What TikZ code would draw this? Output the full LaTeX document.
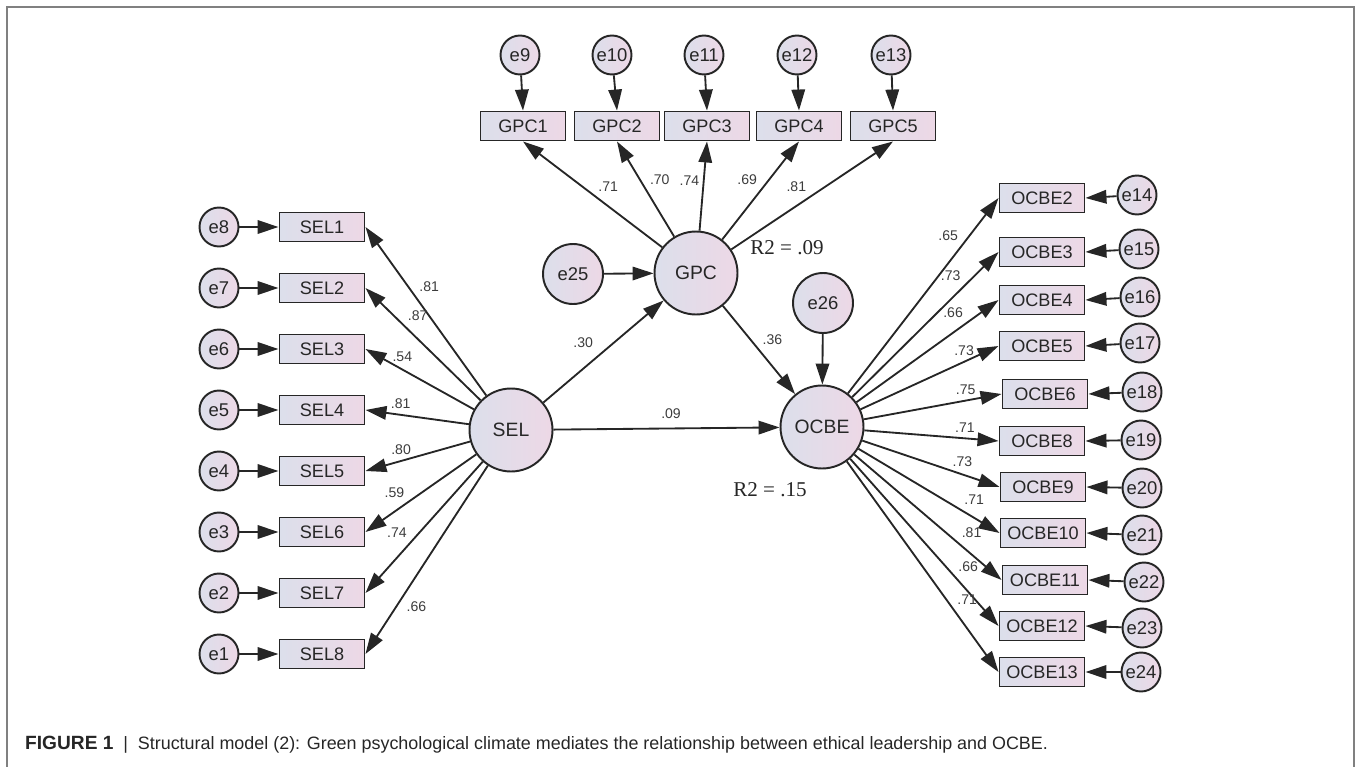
\documentclass[tikz,border=0pt]{standalone}
\usepackage{fontspec}
\setmainfont{Liberation Sans}
\newfontfamily\timesfont{Liberation Serif}
\usepackage{xcolor}
\usepackage{tikz}
\usetikzlibrary{arrows.meta, positioning, calc}
\definecolor{boxleft}{HTML}{DCDFEB}
\definecolor{boxright}{HTML}{EDD8E6}
\definecolor{ink}{HTML}{262626}
\definecolor{framegray}{HTML}{808080}
\definecolor{coefgray}{HTML}{3C3C3C}

\begin{document}
\begin{tikzpicture}[x=0.02cm, y=-0.02cm, >={Triangle[length=0.42cm, width=0.27cm]}]
	\useasboundingbox (0,0) rectangle (1356,767);
	% ------------------------------------------------------------------
	% STYLE DEFINITIONS
	% ------------------------------------------------------------------
	\tikzset{
		item/.style   = {draw=ink, line width=1.1pt, left color=boxleft, right color=boxright,
		                 minimum width=1.7cm, minimum height=0.58cm, inner sep=0pt,
		                 font=\fontsize{10.3}{12}\selectfont, text=ink},
		err/.style    = {circle, draw=ink, line width=1.1pt, left color=boxleft, right color=boxright,
		                 minimum size=0.78cm, inner sep=0pt, font=\fontsize{10.5}{12}\selectfont, text=ink},
		dist/.style   = {err, minimum size=1.2cm},
		latent/.style = {err, minimum size=1.66cm, font=\fontsize{11}{13}\selectfont},
		link/.style   = {->, line width=1.05pt, draw=ink},
		coef/.style   = {font=\fontsize{8}{9}\selectfont, text=coefgray, inner sep=2pt},
		rsq/.style    = {font=\timesfont\fontsize{12}{14}\selectfont, text=ink},
	}
	
	% ------------------------------------------------------------------
	% FRAME & CAPTION
	% ------------------------------------------------------------------
	\draw[framegray, line width=0.8pt] (7,767) -- (7,7) -- (1354,7) -- (1354,767);
	\node[anchor=west, font=\fontsize{10.2}{12}\selectfont, text=ink] (caption) at (19,745)
		{{\fontsize{10.9}{12}\selectfont\textbf{FIGURE 1}}\hspace{0.55em}|\hspace{0.55em}Structural model (2): Green psychological climate mediates the relationship between ethical leadership and OCBE.};
	
	% ------------------------------------------------------------------
	% LATENT VARIABLES
	% ------------------------------------------------------------------
	\node[latent] (SEL)  at (511,430) {SEL};
	\node[latent] (GPC)  at (696,273) {GPC};
	\node[latent] (OCBE) at (822,427) {OCBE};
	\node[dist]   (e25)  at (573,274) {e25};
	\node[dist]   (e26)  at (823,303) {e26};
	\node[rsq] (r2gpc)  at (787,248) {R2 = .09};
	\node[rsq] (r2ocbe) at (770,490) {R2 = .15};
	
	\draw[link] (e25) -- (GPC);
	\draw[link] (e26) -- (OCBE);
	\draw[link] (SEL) -- (GPC)  node[coef, pos=0.47, above left=2pt] (cSG) {.30};
	\draw[link] (SEL) -- (OCBE) node[coef, pos=0.52, above=3pt] (cSO) {.09};
	\draw[link] (GPC) -- (OCBE) node[coef, pos=0.49, above right=0pt] (cGO) {.36};
	
	% ------------------------------------------------------------------
	% SEL INDICATORS
	% ------------------------------------------------------------------
	\node[item] (SEL1) at (322,227) {SEL1};
	\node[item] (SEL2) at (322,288) {SEL2};
	\node[item] (SEL3) at (322,349) {SEL3};
	\node[item] (SEL4) at (322,410) {SEL4};
	\node[item] (SEL5) at (322,471) {SEL5};
	\node[item] (SEL6) at (322,532) {SEL6};
	\node[item] (SEL7) at (322,593) {SEL7};
	\node[item] (SEL8) at (322,654) {SEL8};
	\node[err] (e8) at (219,227) {e8};
	\node[err] (e7) at (219,288) {e7};
	\node[err] (e6) at (219,349) {e6};
	\node[err] (e5) at (219,410) {e5};
	\node[err] (e4) at (219,471) {e4};
	\node[err] (e3) at (219,532) {e3};
	\node[err] (e2) at (219,593) {e2};
	\node[err] (e1) at (219,654) {e1};
	
	\draw[link] (e8) -- (SEL1.west);
	\draw[link] (e7) -- (SEL2.west);
	\draw[link] (e6) -- (SEL3.west);
	\draw[link] (e5) -- (SEL4.west);
	\draw[link] (e4) -- (SEL5.west);
	\draw[link] (e3) -- (SEL6.west);
	\draw[link] (e2) -- (SEL7.west);
	\draw[link] (e1) -- (SEL8.west);
	
	\draw[link] (SEL) -- (SEL1.east) node[coef, pos=0.59, above right=0pt] (cS1) {.81};
	\draw[link] (SEL) -- (SEL2.east) node[coef, pos=0.67, above right=0pt] (cS2) {.87};
	\draw[link] (SEL) -- (SEL3.east) node[coef, pos=0.66, above=2pt] (cS3) {.54};
	\draw[link] (SEL) -- (SEL4.east) node[coef, pos=0.66, above=1pt] (cS4) {.81};
	\draw[link] (SEL) -- (SEL5.east) node[coef, pos=0.66, above=1pt] (cS5) {.80};
	\draw[link] (SEL) -- (SEL6.east) node[coef, pos=0.61, above left=0pt] (cS6) {.59};
	\draw[link] (SEL) -- (SEL7.east) node[coef, pos=0.61, above left=0pt] (cS7) {.74};
	\draw[link] (SEL) -- (SEL8.east) node[coef, pos=0.70, below right=0pt] (cS8) {.66};
	
	% ------------------------------------------------------------------
	% GPC INDICATORS
	% ------------------------------------------------------------------
	\node[item] (GPC1) at (523,126) {GPC1};
	\node[item] (GPC2) at (617,126) {GPC2};
	\node[item] (GPC3) at (707,126) {GPC3};
	\node[item] (GPC4) at (799,126) {GPC4};
	\node[item] (GPC5) at (893,126) {GPC5};
	\node[err] (e9)  at (520,55) {e9};
	\node[err] (e10) at (612,55) {e10};
	\node[err] (e11) at (704,55) {e11};
	\node[err] (e12) at (797,55) {e12};
	\node[err] (e13) at (891,55) {e13};
	
	\draw[link] (e9)  -- (GPC1.north);
	\draw[link] (e10) -- (GPC2.north);
	\draw[link] (e11) -- (GPC3.north);
	\draw[link] (e12) -- (GPC4.north);
	\draw[link] (e13) -- (GPC5.north);
	
	\draw[link] (GPC) -- (GPC1.south) node[coef, pos=0.49, above right=0pt] (cG1) {.71};
	\draw[link] (GPC) -- (GPC2.south) node[coef, pos=0.50, above right=0pt] (cG2) {.70};
	\draw[link] (GPC) -- (GPC3.south) node[coef, pos=0.56, left=0pt] (cG3) {.74};
	\draw[link] (GPC) -- (GPC4.south) node[coef, pos=0.51, above left=0pt] (cG4) {.69};
	\draw[link] (GPC) -- (GPC5.south) node[coef, pos=0.49, above left=0pt] (cG5) {.81};
	
	% ------------------------------------------------------------------
	% OCBE INDICATORS
	% ------------------------------------------------------------------
	\node[item] (OCBE2)  at (1042,198) {OCBE2};
	\node[item] (OCBE3)  at (1042,252) {OCBE3};
	\node[item] (OCBE4)  at (1042,300) {OCBE4};
	\node[item] (OCBE5)  at (1042,346) {OCBE5};
	\node[item] (OCBE6)  at (1045,394) {OCBE6};
	\node[item] (OCBE8)  at (1042,441) {OCBE8};
	\node[item] (OCBE9)  at (1043,487) {OCBE9};
	\node[item] (OCBE10) at (1043,533) {OCBE10};
	\node[item] (OCBE11) at (1045,580) {OCBE11};
	\node[item] (OCBE12) at (1042,626) {OCBE12};
	\node[item] (OCBE13) at (1042,672) {OCBE13};
	\node[err] (e14) at (1137,195) {e14};
	\node[err] (e15) at (1139,249) {e15};
	\node[err] (e16) at (1140,297) {e16};
	\node[err] (e17) at (1140,343) {e17};
	\node[err] (e18) at (1142,392) {e18};
	\node[err] (e19) at (1141,440) {e19};
	\node[err] (e20) at (1142,488) {e20};
	\node[err] (e21) at (1142,535) {e21};
	\node[err] (e22) at (1144,582) {e22};
	\node[err] (e23) at (1142,628) {e23};
	\node[err] (e24) at (1141,672) {e24};
	
	\draw[link] (e14) -- (OCBE2.east);
	\draw[link] (e15) -- (OCBE3.east);
	\draw[link] (e16) -- (OCBE4.east);
	\draw[link] (e17) -- (OCBE5.east);
	\draw[link] (e18) -- (OCBE6.east);
	\draw[link] (e19) -- (OCBE8.east);
	\draw[link] (e20) -- (OCBE9.east);
	\draw[link] (e21) -- (OCBE10.east);
	\draw[link] (e22) -- (OCBE11.east);
	\draw[link] (e23) -- (OCBE12.east);
	\draw[link] (e24) -- (OCBE13.east);
	
	\draw[link] (OCBE) -- (OCBE2.west)  node[coef, pos=0.76, above left=0pt]  (cO2)  {.65};
	\draw[link] (OCBE) -- (OCBE3.west)  node[coef, pos=0.77, above left=0pt]  (cO3)  {.73};
	\draw[link] (OCBE) -- (OCBE4.west)  node[coef, pos=0.78, above left=0pt]  (cO4)  {.66};
	\draw[link] (OCBE) -- (OCBE5.west)  node[coef, pos=0.75, above=1pt]       (cO5)  {.73};
	\draw[link] (OCBE) -- (OCBE6.west)  node[coef, pos=0.74, above=1pt]       (cO6)  {.75};
	\draw[link] (OCBE) -- (OCBE8.west)  node[coef, pos=0.75, above=1pt]       (cO8)  {.71};
	\draw[link] (OCBE) -- (OCBE9.west)  node[coef, pos=0.73, above=2pt]       (cO9)  {.73};
	\draw[link] (OCBE) -- (OCBE10.west) node[coef, pos=0.72, above right=0pt] (cO10) {.71};
	\draw[link] (OCBE) -- (OCBE11.west) node[coef, pos=0.70, above right=0pt] (cO11) {.81};
	\draw[link] (OCBE) -- (OCBE12.west) node[coef, pos=0.70, above right=0pt] (cO12) {.66};
	\draw[link] (OCBE) -- (OCBE13.west) node[coef, pos=0.70, above right=0pt] (cO13) {.71};
	
\end{tikzpicture}
\end{document}
